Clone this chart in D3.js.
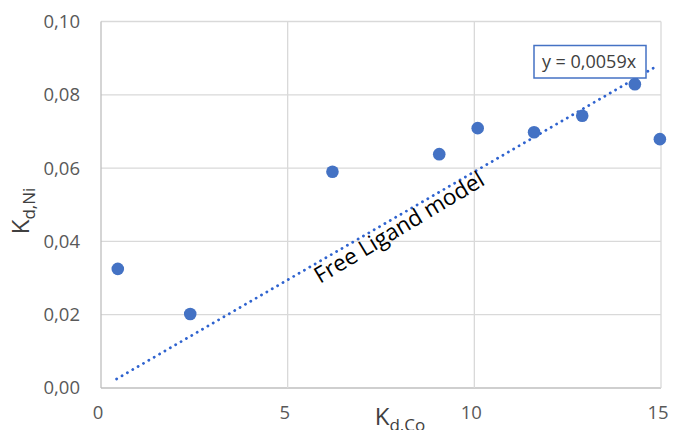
<!DOCTYPE html>
<html><head><meta charset="utf-8">
<script src="https://cdn.jsdelivr.net/npm/d3@7"></script>
<style>body{margin:0;background:#fff}svg{display:block}</style>
</head><body>
<svg id="c" width="673" height="430"></svg>
<script>
const kdCo = [0.45, 2.39, 6.2, 9.06, 10.09, 11.6, 12.89, 14.3, 14.97];
const kdNi = [0.0325, 0.0202, 0.059, 0.0638, 0.0709, 0.0698, 0.0743, 0.0829, 0.0679];
const slope = 0.0059;
const xTicks = [0, 5, 10, 15];
const yTicks = [0, 0.02, 0.04, 0.06, 0.08, 0.10];
const eqLabel = "y = 0,0059x";
const modelLabel = "Free Ligand model";

const svg = d3.select("#c");
const m = {l:101, r:661, t:21.5, b:388};
const x = d3.scaleLinear().domain([0,15]).range([m.l, m.r]);
const y = d3.scaleLinear().domain([0,0.10]).range([m.b, m.t]);
const fmtY = d => d3.format(".2f")(d).replace(".", ",");
const font = "'Open Sans', sans-serif";

// gridlines
svg.append("g").selectAll("line").data(yTicks).join("line")
  .attr("x1", m.l).attr("x2", m.r).attr("y1", d=>y(d)).attr("y2", d=>y(d))
  .attr("stroke", d => d===0 ? "#bfbfbf" : "#d9d9d9").attr("stroke-width", 1.3);
svg.append("g").selectAll("line").data(xTicks).join("line")
  .attr("y1", m.t).attr("y2", m.b).attr("x1", d=>x(d)).attr("x2", d=>x(d))
  .attr("stroke", d => d===0 ? "#bfbfbf" : "#d9d9d9").attr("stroke-width", 1.3);

// tick labels
svg.append("g").selectAll("text").data(yTicks).join("text")
  .attr("x", 80).attr("y", d=>y(d)).attr("dy", "0.35em").attr("text-anchor","end")
  .attr("font-family", font).attr("font-size", 18.5).attr("fill", "#595959").text(fmtY);
svg.append("g").selectAll("text").data(xTicks).join("text")
  .attr("x", d=>x(d) - 3).attr("y", 419).attr("text-anchor","middle")
  .attr("font-family", font).attr("font-size", 18.5).attr("fill", "#595959").text(d=>d);

// trendline
const xr = d3.extent(kdCo);
svg.append("line")
  .attr("x1", x(xr[0]*0.93)).attr("y1", y(xr[0]*0.93*slope))
  .attr("x2", x(xr[1]*0.99)).attr("y2", y(xr[1]*0.99*slope))
  .attr("stroke", "#2f63cf").attr("stroke-width", 2.8)
  .attr("stroke-linecap", "round").attr("stroke-dasharray", "0.1 6.1");

// points
svg.append("g").selectAll("circle").data(kdCo).join("circle")
  .attr("cx", d=>x(d)).attr("cy", (d,i)=>y(kdNi[i])).attr("r", 6.3)
  .attr("fill", "#4472c4");

// equation label
const eqG = svg.append("g");
eqG.append("rect").attr("x", 534).attr("y", 45.5).attr("width", 112).attr("height", 32.5)
  .attr("fill", "#fff").attr("stroke", "#4472c4").attr("stroke-width", 1.5);
eqG.append("text").attr("x", 589).attr("y", 62).attr("dy","0.35em").attr("text-anchor","middle")
  .attr("font-family", font).attr("font-size", 18).attr("fill", "#404040").text(eqLabel);

// model label
svg.append("text").attr("transform", "translate(320,284) rotate(-31)")
  .attr("font-family", font).attr("font-size", 22.5).attr("fill", "#000").text(modelLabel);

// axis titles
const yt = svg.append("text").attr("transform","translate(29,211) rotate(-90)")
  .attr("text-anchor","middle").attr("font-family", font).attr("fill","#404040");
yt.append("tspan").attr("font-size", 24).text("K");
yt.append("tspan").attr("font-size", 17).attr("dy", 6).text("d,Ni");

const xt = svg.append("text").attr("x", 400).attr("y", 425)
  .attr("text-anchor","middle").attr("font-family", font).attr("fill","#404040");
xt.append("tspan").attr("font-size", 24).text("K");
xt.append("tspan").attr("font-size", 17).attr("dy", 6).text("d,Co");
</script>
</body></html>
